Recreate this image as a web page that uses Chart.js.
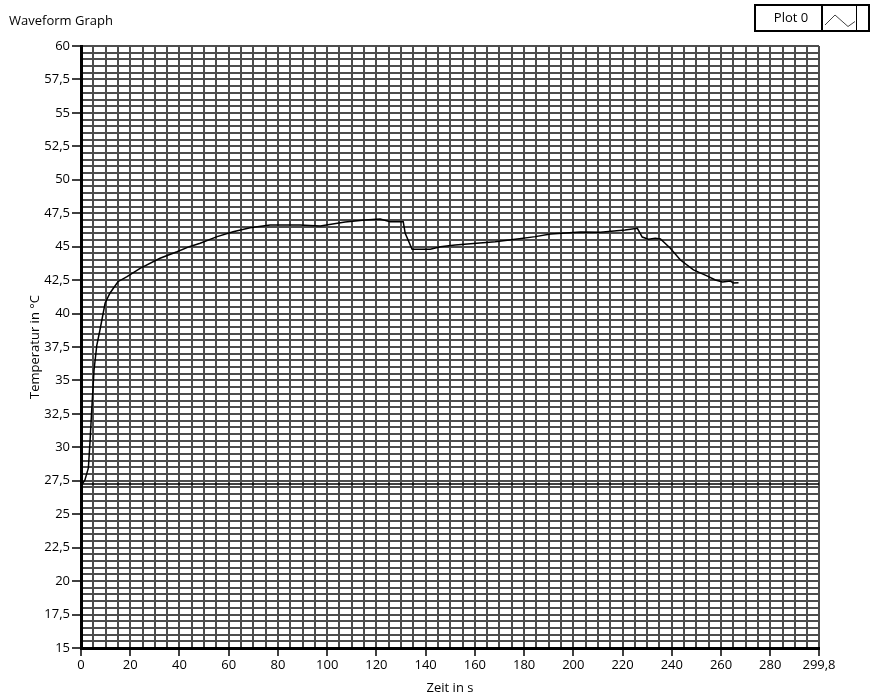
<!DOCTYPE html>
<html>
<head>
<meta charset="utf-8">
<title>Waveform Graph</title>
<script src="https://cdn.jsdelivr.net/npm/chart.js@4.4.1/dist/chart.umd.min.js"></script>
<style>
  html, body { margin: 0; padding: 0; background: #fff; }
  canvas { display: block; }
</style>
</head>
<body>
<canvas id="waveform_chart" width="870" height="696"></canvas>
<script>
// measured temperature curve (time in s, temperature in degC)
var timeValues = [0.3, 1.6, 3.0, 3.7, 4.35, 5.3, 6.4, 7.7, 9.8, 11.8, 15.0, 18.7, 24.0, 32.1, 39.0, 44.0,
    48.4, 55.3, 61.8, 68.7, 76.8, 89.0, 97.2, 107.3, 115.4, 121.5, 125.6, 130.9, 131.7, 134.5, 141.9,
    146.0, 152.0, 162.0, 168.3, 176.4, 184.6, 190.7, 203.0, 211.0, 221.0, 226.0, 228.0, 230.5, 233.3,
    235.4, 239.4, 243.5, 248.8, 254.5, 257.7, 260.6, 263.8, 265.0, 267.1];
var tempValues = [27.19, 27.56, 28.46, 30.55, 32.79, 35.78, 37.6, 38.77, 40.79, 41.54, 42.38, 42.76, 43.38, 44.13, 44.62, 45.0,
    45.25, 45.75, 46.12, 46.42, 46.62, 46.62, 46.55, 46.84, 47.0, 47.07, 46.87, 46.87, 46.0, 44.8, 44.8,
    45.0, 45.13, 45.27, 45.37, 45.55, 45.75, 45.95, 46.1, 46.08, 46.25, 46.37, 45.72, 45.55, 45.63,
    45.57, 44.88, 44.0, 43.26, 42.8, 42.51, 42.36, 42.43, 42.28, 42.31];

// flat reference line
var baseTime = [0, 299.8];
var baseTemp = [27.25, 27.25];

// labelled ticks
var xTickLabels = [0, 20, 40, 60, 80, 100, 120, 140, 160, 180, 200, 220, 240, 260, 280, 299.8];
var yTickLabels = [15, 17.5, 20, 22.5, 25, 27.5, 30, 32.5, 35, 37.5, 40, 42.5, 45, 47.5, 50, 52.5, 55, 57.5, 60];

var xMin = 0, xMax = 299.8, xGridStep = 5;
var yMin = 15, yMax = 60, yGridStep = 0.5;

function toPoints(xs, ys) {
    return xs.map(function (x, i) { return { x: x, y: ys[i] }; });
}

function gridTicks(min, max, step, extra) {
    var out = [];
    for (var v = min; v <= max + 1e-9; v += step) {
        out.push({ value: Math.round(v * 100) / 100 });
    }
    if (extra !== undefined && out[out.length - 1].value !== extra) out.push({ value: extra });
    return out;
}

function isLabelled(list, v) {
    return list.some(function (l) { return Math.abs(l - v) < 1e-6; });
}

function fmt(v) {
    return String(v).replace('.', ',');
}

var FONT = '"Open Sans", "Liberation Sans", sans-serif';

// title top left and "Plot 0" legend box top right
var decorations = {
    id: 'decorations',
    afterDraw: function (chart) {
        var c = chart.ctx;
        c.save();
        c.fillStyle = '#000';
        c.font = '13px ' + FONT;
        c.textBaseline = 'middle';
        c.textAlign = 'left';
        c.fillText('Waveform Graph', 9, 21);

        c.strokeStyle = '#000';
        c.lineWidth = 2;
        c.strokeRect(755, 5, 114, 26);
        c.beginPath();
        c.moveTo(822, 5);
        c.lineTo(822, 31);
        c.stroke();
        c.lineWidth = 1;
        c.beginPath();
        c.moveTo(856.5, 5);
        c.lineTo(856.5, 31);
        c.stroke();

        c.strokeStyle = '#444';
        c.beginPath();
        c.moveTo(825, 25);
        c.lineTo(835, 15);
        c.lineTo(848, 26.5);
        c.lineTo(855, 21.5);
        c.stroke();

        c.textAlign = 'center';
        c.fillText('Plot 0', 791, 18);
        c.restore();
    }
};

var waveform_chart = new Chart(document.getElementById('waveform_chart'), {
    type: 'scatter',
    data: {
        datasets: [{
            label: 'Plot 0',
            data: toPoints(timeValues, tempValues),
            showLine: true,
            borderColor: '#000',
            borderWidth: 1.5,
            pointRadius: 0,
            tension: 0
        }, {
            label: 'Base',
            data: toPoints(baseTime, baseTemp),
            showLine: true,
            borderColor: '#000',
            borderWidth: 1.5,
            pointRadius: 0
        }]
    },
    options: {
        responsive: false,
        animation: false,
        layout: {
            padding: { top: 46, right: 51, left: 0, bottom: 0 }
        },
        plugins: {
            legend: { display: false },
            title: { display: false },
            tooltip: { enabled: false }
        },
        scales: {
            x: {
                type: 'linear',
                min: xMin,
                max: xMax,
                afterBuildTicks: function (scale) {
                    scale.ticks = gridTicks(xMin, 295, xGridStep, xMax);
                },
                afterFit: function (scale) { scale.height = 48; },
                grid: {
                    color: '#4d4d4d',
                    lineWidth: 2,
                    tickLength: 8,
                    tickWidth: 1.5,
                    tickColor: function (ctx) {
                        return ctx.tick && isLabelled(xTickLabels, ctx.tick.value) ? '#000' : 'rgba(0,0,0,0)';
                    }
                },
                border: { color: '#000', width: 3 },
                ticks: {
                    autoSkip: false,
                    maxRotation: 0,
                    padding: 1,
                    color: '#000',
                    font: { family: FONT, size: 13 },
                    callback: function (v) { return isLabelled(xTickLabels, v) ? fmt(v) : ''; }
                },
                title: {
                    display: true,
                    text: 'Zeit in s',
                    color: '#000',
                    font: { family: FONT, size: 13 },
                    padding: { top: 1, bottom: 0 }
                }
            },
            y: {
                type: 'linear',
                min: yMin,
                max: yMax,
                afterBuildTicks: function (scale) {
                    scale.ticks = gridTicks(yMin, yMax, yGridStep);
                },
                afterFit: function (scale) { scale.width = 81; },
                grid: {
                    color: '#4d4d4d',
                    lineWidth: 2,
                    tickLength: 9,
                    tickWidth: 1.5,
                    tickColor: function (ctx) {
                        return ctx.tick && isLabelled(yTickLabels, ctx.tick.value) ? '#000' : 'rgba(0,0,0,0)';
                    }
                },
                border: { color: '#000', width: 3 },
                ticks: {
                    autoSkip: false,
                    padding: 2,
                    color: '#000',
                    font: { family: FONT, size: 13 },
                    callback: function (v) { return isLabelled(yTickLabels, v) ? fmt(v) : ''; }
                },
                title: {
                    display: true,
                    text: 'Temperatur in °C',
                    color: '#000',
                    font: { family: FONT, size: 13 },
                    padding: { top: 27, bottom: 0 }
                }
            }
        }
    },
    plugins: [decorations]
});
</script>
</body>
</html>
